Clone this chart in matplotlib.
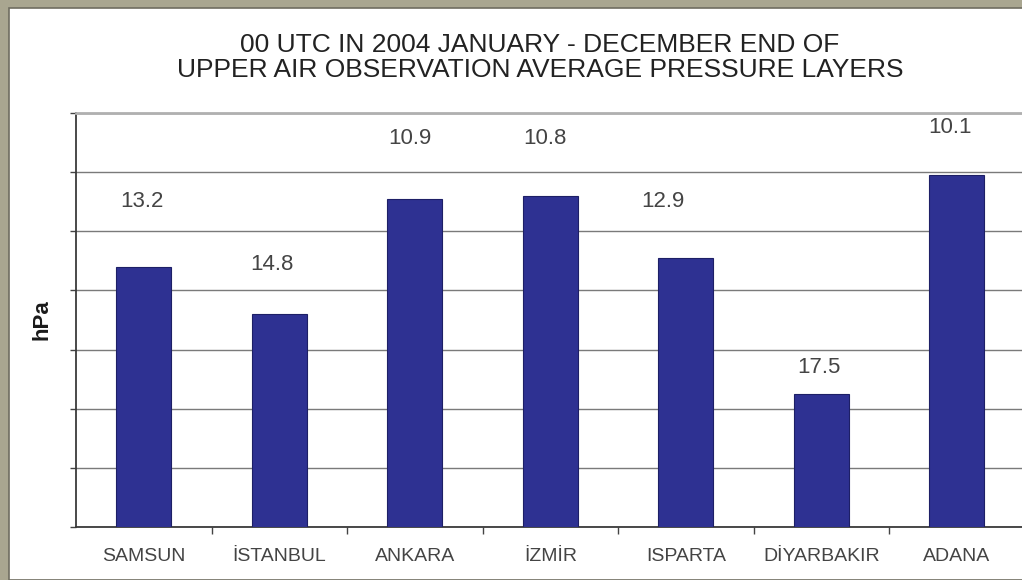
import matplotlib
matplotlib.use("Agg")
import matplotlib.pyplot as plt
from matplotlib.patches import Rectangle
from matplotlib.ticker import FixedLocator, NullFormatter

# Average pressure layer thickness per station (hPa)
stations = ["SAMSUN", "İSTANBUL", "ANKARA", "İZMİR", "ISPARTA", "DİYARBAKIR", "ADANA"]
values = [13.2, 14.8, 10.9, 10.8, 12.9, 17.5, 10.1]
y_ticks = [8, 10, 12, 14, 16, 18, 20, 22]
title_lines = ["00 UTC IN 2004 JANUARY - DECEMBER END OF",
               "UPPER AIR OBSERVATION AVERAGE PRESSURE LAYERS"]
y_label = "hPa"

# label offsets from each bar top, in pixels (dx, dy to baseline)
label_offsets = [(-2, 60), (-7.5, 44), (-4.5, 54.5), (-5.5, 51.5),
                 (-23, 51), (-2.5, 21), (-7, 42)]

plt.rcParams["font.family"] = ["Liberation Sans", "DejaVu Sans"]

W, H = 1022, 580
fig = plt.figure(figsize=(W / 100, H / 100), dpi=100)
fig.patch.set_facecolor("#a9a690")

# white panel inside the textured frame
panel = Rectangle((9 / W, 0), 1.2, (H - 8) / H, transform=fig.transFigure,
                  facecolor="white", edgecolor="#6f6d60", linewidth=1.2,
                  zorder=-1)
fig.patches.append(panel)

ax = fig.add_axes([76 / W, 53 / H, (1024.5 - 76) / W, (527 - 113) / H])
ax.set_facecolor("white")
ax.set_zorder(1)

x = list(range(len(stations)))
base = y_ticks[-1]
ax.bar(x, [v - base for v in values], bottom=base, width=0.405,
       color="#2e3192", edgecolor="#1d1f66", linewidth=0.8, zorder=3)

ax.set_xlim(-0.5, len(stations) - 0.5)
ax.set_ylim(y_ticks[-1], y_ticks[0])

ax.yaxis.set_major_locator(FixedLocator(y_ticks))
ax.yaxis.set_major_formatter(NullFormatter())
ax.grid(axis="y", color="#7a7a7a", linewidth=1.0, zorder=1)
ax.tick_params(axis="y", length=4, width=1, color="#444444", direction="out")

ax.set_xticks(x)
ax.set_xticklabels(stations, fontsize=14, color="#444444")
ax.tick_params(axis="x", which="major", length=0, pad=15)
ax.xaxis.set_minor_locator(FixedLocator([i + 0.5 for i in x[:-1]]))
ax.tick_params(axis="x", which="minor", length=5, width=1, color="#444444",
               direction="out")

for side in ("left", "bottom"):
    ax.spines[side].set_color("#3a3a3a")
    ax.spines[side].set_linewidth(1.3)
ax.spines["top"].set_color("#b0b0b0")
ax.spines["top"].set_linewidth(2)
ax.spines["right"].set_visible(False)

for i, (v, (dx, dy)) in enumerate(zip(values, label_offsets)):
    ax.annotate(f"{v:.1f}", xy=(i, v), xytext=(dx, dy),
                textcoords="offset pixels", ha="center", va="baseline",
                fontsize=16, color="#444444", zorder=4)

fig.text(42 / W, 1 - 320 / H, y_label, rotation=90, ha="center", va="center",
         fontsize=16, fontweight="bold", color="#1a1a1a")

fig.text(540 / W, 1 - 52 / H, title_lines[0], ha="center", va="baseline",
         fontsize=19, color="#222222")
fig.text(540 / W, 1 - 77 / H, title_lines[1], ha="center", va="baseline",
         fontsize=19, color="#222222")

fig.savefig("out.png", dpi=100, facecolor=fig.get_facecolor())
